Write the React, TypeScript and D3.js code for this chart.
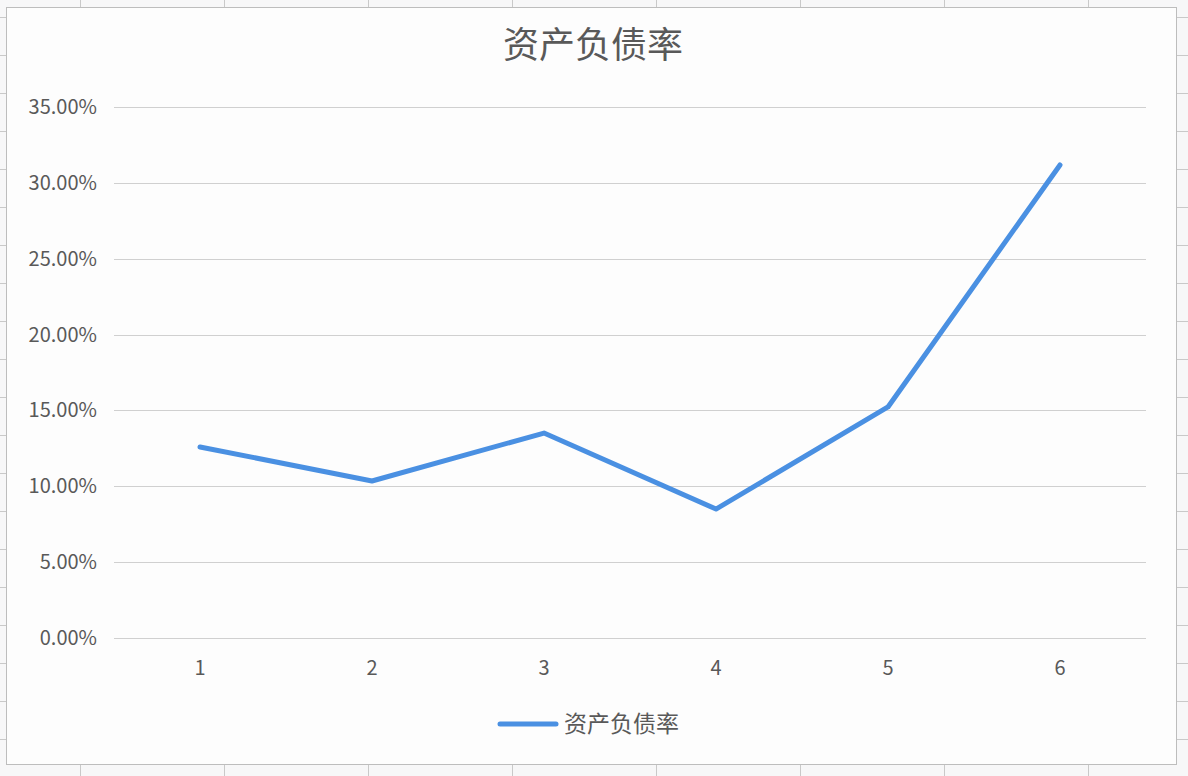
import React from "react";
import * as d3 from "d3";

const title = "资产负债率";
const seriesName = "资产负债率";
const categories = ["1", "2", "3", "4", "5", "6"];
const values = [0.1259, 0.1035, 0.1351, 0.085, 0.1523, 0.3118];
const yTicks = [0, 0.05, 0.1, 0.15, 0.2, 0.25, 0.3, 0.35];

const W = 1188;
const H = 776;

export default function App() {
  const x = d3.scaleBand<string>().domain(categories).range([114, 1146]).padding(0);
  const y = d3.scaleLinear().domain([0, 0.35]).range([638, 107]);
  const fmt = (v: number) => (v * 100).toFixed(2) + "%";
  const line = d3
    .line<number>()
    .x((_, i) => (x(categories[i]) as number) + x.bandwidth() / 2)
    .y((d) => y(d));

  const font = "'Microsoft YaHei','Noto Sans CJK SC','Noto Sans',sans-serif";
  const textColor = "#595959";

  // spreadsheet decoration
  const colLines = d3.range(0, 8).map((i) => 80 + 144 * i);
  const rowLines = d3.range(0, 21).map((i) => 17 + 38 * i);

  return (
    <div style={{ position: "absolute", left: 0, top: 0 }}>
      <svg width={W} height={H} style={{ display: "block" }}>
        <rect x={0} y={0} width={W} height={H} fill="#f7f7f8" />
        {colLines.map((cx, i) => (
          <line key={"c" + i} x1={cx + 0.5} x2={cx + 0.5} y1={0} y2={H} stroke="#c9c9c9" strokeWidth={1} />
        ))}
        {rowLines.map((ry, i) => (
          <line key={"r" + i} x1={0} x2={W} y1={ry + 0.5} y2={ry + 0.5} stroke="#c9c9c9" strokeWidth={1} />
        ))}
        <rect x={6.5} y={7.5} width={1170} height={757} fill="#fdfdfd" stroke="#bdbdbd" strokeWidth={1} />

        <text x={593} y={58} textAnchor="middle" fontFamily={font} fontSize={36} fill={textColor}>
          {title}
        </text>

        {yTicks.map((t) => (
          <g key={t}>
            <line x1={114} x2={1146} y1={Math.round(y(t)) + 0.5} y2={Math.round(y(t)) + 0.5} stroke="#d0d0d0" strokeWidth={1.2} />
            <text x={97} y={y(t) + 7} textAnchor="end" fontFamily={font} fontSize={20} fill={textColor}>
              {fmt(t)}
            </text>
          </g>
        ))}

        {categories.map((c) => (
          <text
            key={c}
            x={(x(c) as number) + x.bandwidth() / 2}
            y={675}
            textAnchor="middle"
            fontFamily={font}
            fontSize={20}
            fill={textColor}
          >
            {c}
          </text>
        ))}

        <path d={line(values) || ""} fill="none" stroke="#4a90e2" strokeWidth={5} strokeLinejoin="round" strokeLinecap="round" />

        <line x1={500} x2={556} y1={724} y2={724} stroke="#4a90e2" strokeWidth={5} strokeLinecap="round" />
        <text x={564} y={732} fontFamily={font} fontSize={23} fill={textColor}>
          {seriesName}
        </text>
      </svg>
    </div>
  );
}
